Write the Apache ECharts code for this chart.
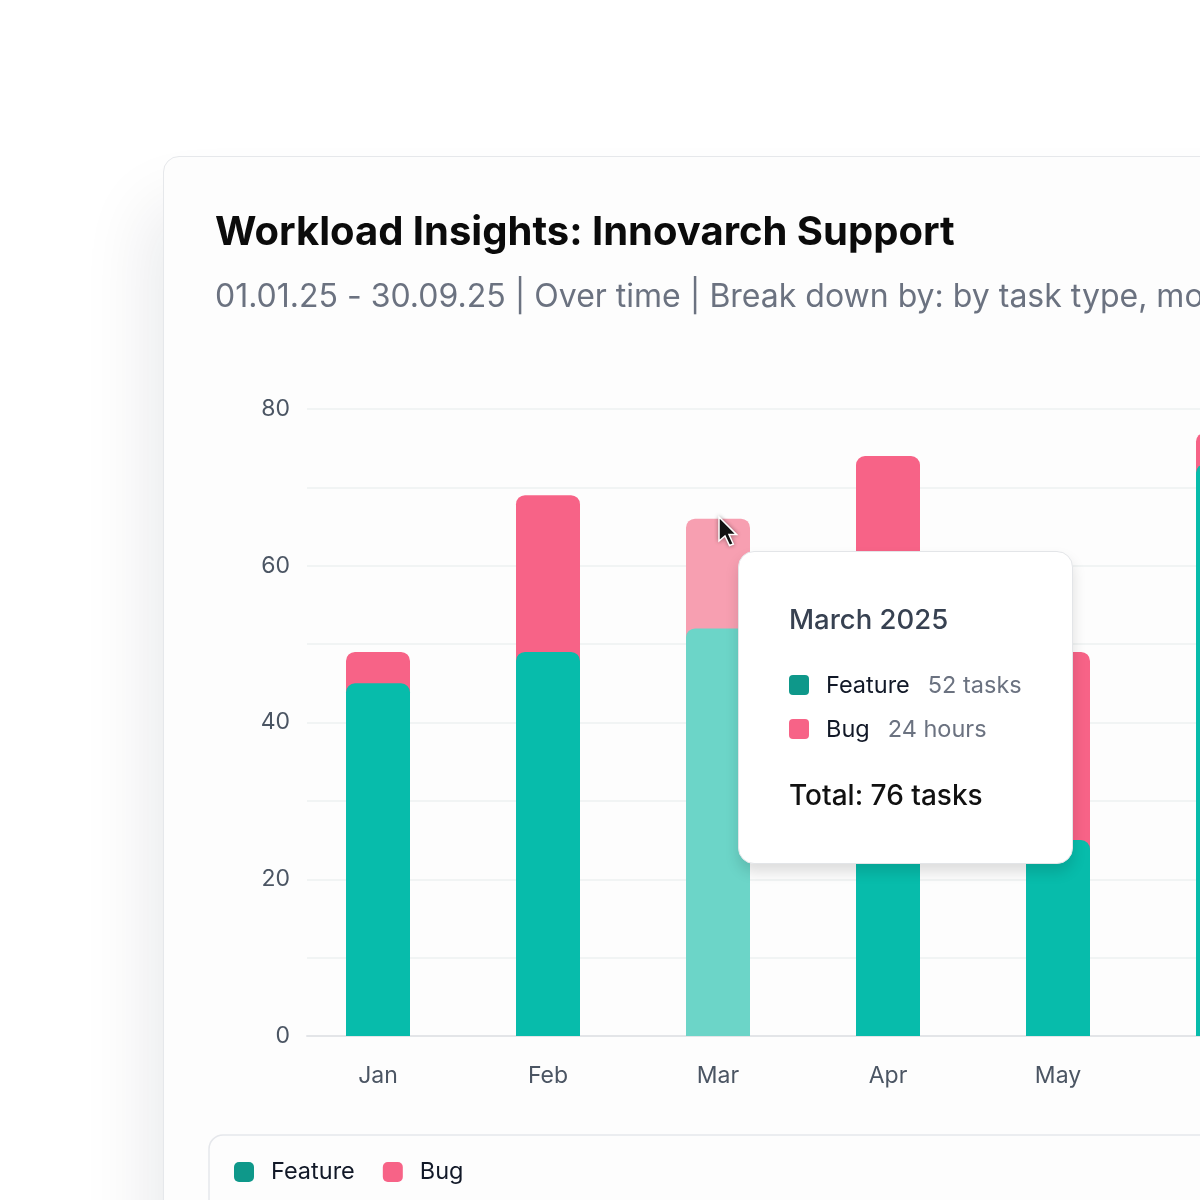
<!DOCTYPE html>
<html>
<head>
<meta charset="utf-8">
<script src="https://cdn.jsdelivr.net/npm/echarts@6/dist/echarts.min.js"></script>
<style>
  html, body { margin: 0; padding: 0; width: 1200px; height: 1200px; overflow: hidden; background: #ffffff; }
  #card {
    position: absolute; left: 163px; top: 156px;
    width: 1800px; height: 1200px;
    border: 1px solid #e6e8eb; border-radius: 16px;
    background: #fdfdfd;
    box-shadow: -14px 50px 70px rgba(15, 23, 42, 0.09);
  }
</style>
</head>
<body>
<div id="card"></div>
<script>
// months shown in the card (the rest is cut off by the window)
const months = ['Jan', 'Feb', 'Mar', 'Apr', 'May', 'Jun'];
const featureTasks = [45, 49, 52, 52, 25, 73];
const bugTasks = [4, 20, 14, 22, 24, 4];
const hoverIndex = 2;

// tooltip text as shown for the hovered month
const tipTitle = 'March 2025';
const tipRows = [
  { name: 'Feature', value: '52 tasks' },
  { name: 'Bug', value: '24 hours' },
];
const tipTotal = 'Total: 76 tasks';

const COLORS = {
  feature: '#07bcab',
  featureLight: '#6cd5c8',
  featureKey: '#0e988a',
  bug: '#f76387',
  bugLight: '#f79fb1',
  bugKey: '#f76387',
};
const FONT = 'Inter, "Noto Sans", sans-serif';

const totals = featureTasks.map((v, i) => v + bugTasks[i]);

function withHover(values, light) {
  return values.map((v, i) => i === hoverIndex ? { value: v, itemStyle: { color: light } } : v);
}

function tooltipHtml() {
  const keys = [COLORS.featureKey, COLORS.bugKey];
  const rows = tipRows.map((r, i) =>
    `<div style="display:flex;align-items:center;height:32px;margin-top:${i === 0 ? 34 : 12}px">` +
      `<span style="display:inline-block;width:20px;height:20px;border-radius:4px;background:${keys[i]}"></span>` +
      `<span style="margin-left:17px;font-size:23.5px;color:#111827">${r.name}</span>` +
      `<span style="margin-left:18px;font-size:23.5px;color:#6b7280">${r.value}</span>` +
    `</div>`).join('');
  return `<div style="font-family:${FONT.replace(/"/g, "'")};line-height:32px">` +
    `<div style="font-size:27.5px;font-weight:500;color:#374151;height:32px">${tipTitle}</div>` +
    rows +
    `<div style="font-size:28px;font-weight:500;color:#111111;margin-top:33px;height:34px;line-height:34px">${tipTotal}</div>` +
    `</div>`;
}

const chart = echarts.init(document.getElementById('card'), null, { renderer: 'canvas' });

chart.setOption({
  backgroundColor: 'transparent',
  animation: false,
  textStyle: { fontFamily: FONT },
  title: [
    {
      text: 'Workload Insights: Innovarch Support',
      left: 51, top: 56, padding: 0,
      textStyle: { fontFamily: FONT, fontSize: 40, fontWeight: 700, color: '#0b0b0b' },
    },
    {
      text: '01.01.25 - 30.09.25 | Over time | Break down by: by task type, month',
      left: 51, top: 124, padding: 0,
      textStyle: { fontFamily: FONT, fontSize: 32, fontWeight: 400, color: '#6b7280' },
    },
  ],
  grid: [
    { left: 143, top: 252, width: 1600, height: 627 },
    { left: 129, top: 252, width: 1020, height: 627 },
  ],
  xAxis: [
    {
      gridIndex: 0, type: 'value', min: 0, max: 1,
      axisLine: { show: true, lineStyle: { color: '#e3e5e8', width: 2 } },
      axisTick: { show: false }, axisLabel: { show: false }, splitLine: { show: false },
    },
    {
      gridIndex: 1, type: 'category', data: months,
      axisLine: { show: false }, axisTick: { show: false },
      axisLabel: { margin: 29, fontFamily: FONT, fontSize: 23, color: '#4b5563' },
    },
  ],
  yAxis: [
    {
      gridIndex: 0, type: 'value', min: 0, max: 80, interval: 10,
      axisLine: { show: false }, axisTick: { show: false },
      axisLabel: {
        margin: 17, fontFamily: FONT, fontSize: 23, color: '#4b5563',
        formatter: v => (v % 20 === 0 ? String(v) : ''),
      },
      splitLine: { lineStyle: { color: '#edf0f1', width: 1.5 } },
    },
    { gridIndex: 1, type: 'value', min: 0, max: 80, show: false },
  ],
  legend: {
    left: 70, top: 1003, padding: 0,
    icon: 'roundRect', itemWidth: 20, itemHeight: 20, itemGap: 28,
    textStyle: { fontFamily: FONT, fontSize: 23.5, color: '#111827', padding: [0, 0, 0, 12] },
    data: [
      { name: 'Feature', itemStyle: { color: COLORS.featureKey } },
      { name: 'Bug', itemStyle: { color: COLORS.bugKey } },
    ],
  },
  tooltip: {
    trigger: 'axis',
    triggerOn: 'none',
    alwaysShowContent: true,
    axisPointer: { type: 'none' },
    transitionDuration: 0,
    position: [574, 394],
    padding: [51, 20, 0, 50],
    backgroundColor: '#ffffff',
    borderColor: '#e3e5e8',
    borderWidth: 1,
    extraCssText: 'border-radius:16px;width:335px;height:313px;box-sizing:border-box;box-shadow:0 8px 14px rgba(0,0,0,0.13);',
    formatter: () => tooltipHtml(),
  },
  graphic: [
    {
      type: 'rect', z: 0,
      shape: { x: 45, y: 978, width: 1600, height: 300, r: 14 },
      style: { fill: 'transparent', stroke: '#e5e7eb', lineWidth: 1.5 },
    },
    {
      type: 'polygon', x: 555, y: 360, z: 100,
      shape: { points: [[0, 0], [0, 24], [6, 19], [10.5, 28.5], [14.3, 27], [10, 17.6], [17.6, 17.6]] },
      style: { fill: '#141414', stroke: '#ffffff', lineWidth: 1.5, shadowBlur: 4, shadowColor: 'rgba(0,0,0,0.3)' },
    },
  ],
  series: [
    {
      name: 'Bug', type: 'bar', xAxisIndex: 1, yAxisIndex: 1,
      barWidth: 64, barGap: '-100%',
      emphasis: { disabled: true },
      itemStyle: { color: COLORS.bug, borderRadius: [9, 9, 0, 0] },
      data: withHover(totals, COLORS.bugLight),
    },
    {
      name: 'Feature', type: 'bar', xAxisIndex: 1, yAxisIndex: 1,
      barWidth: 64, barGap: '-100%',
      emphasis: { disabled: true },
      itemStyle: { color: COLORS.feature, borderRadius: [9, 9, 0, 0] },
      data: withHover(featureTasks, COLORS.featureLight),
    },
  ],
});

chart.dispatchAction({ type: 'showTip', seriesIndex: 1, dataIndex: hoverIndex });
</script>
</body>
</html>
